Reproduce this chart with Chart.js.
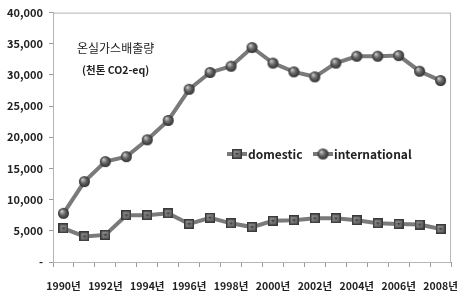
<!DOCTYPE html>
<html>
<head>
<meta charset="utf-8">
<script src="https://cdn.jsdelivr.net/npm/chart.js@4.4.1/dist/chart.umd.min.js"></script>
<style>
  body { margin: 0; background: #fff; }
  canvas { display: block; }
</style>
</head>
<body>
<canvas id="chart" width="471" height="296"></canvas>
<script>
const years = ["1990년", "1991년", "1992년", "1993년", "1994년", "1995년", "1996년", "1997년", "1998년", "1999년",
  "2000년", "2001년", "2002년", "2003년", "2004년", "2005년", "2006년", "2007년", "2008년"];
const domestic = [5400, 4100, 4350, 7500, 7500, 7800, 6100, 7100, 6200, 5600,
  6600, 6700, 7000, 7000, 6700, 6200, 6100, 6000, 5300];
const international = [7800, 12900, 16100, 16900, 19600, 22700, 27700, 30400, 31400, 34400,
  31900, 30500, 29700, 31900, 33000, 33000, 33100, 30600, 29100];
const yTicks = [0, 5000, 10000, 15000, 20000, 25000, 30000, 35000, 40000];

const FONT = "'Noto Sans CJK KR', 'Noto Sans', sans-serif";
const LINE = "#7a7a7a";

// marker images, drawn once
function sphere(r) {
  const c = document.createElement("canvas");
  c.width = c.height = r * 2 + 2;
  const g = c.getContext("2d");
  const m = r + 1;
  const grad = g.createRadialGradient(m - r * 0.35, m - r * 0.4, 0.5, m, m, r);
  grad.addColorStop(0, "#c8c8c8");
  grad.addColorStop(0.45, "#6a6a6a");
  grad.addColorStop(1, "#2e2e2e");
  g.fillStyle = grad;
  g.beginPath();
  g.arc(m, m, r, 0, Math.PI * 2);
  g.fill();
  return c;
}

function block(s) {
  const c = document.createElement("canvas");
  c.width = c.height = s;
  const g = c.getContext("2d");
  g.fillStyle = "#3a3a3a";
  g.fillRect(0, 0, s, s);
  const grad = g.createLinearGradient(0, 0, s, s);
  grad.addColorStop(0, "#9a9a9a");
  grad.addColorStop(1, "#555");
  g.fillStyle = grad;
  g.fillRect(1.5, 1.5, s - 3, s - 3);
  g.fillStyle = "#444";
  g.beginPath();
  g.moveTo(s / 2 - 2, s / 2 - 1);
  g.lineTo(s / 2 + 2, s / 2 - 1);
  g.lineTo(s / 2, s / 2 + 1.5);
  g.fill();
  return c;
}

const ballImg = sphere(5.5);
const boxImg = block(10);

const overlay = {
  id: "overlay",
  beforeDatasetsDraw(chart) {
    const { ctx, chartArea: a } = chart;
    ctx.save();
    ctx.strokeStyle = "#b5b5b5";
    ctx.lineWidth = 1;
    ctx.strokeRect(a.left + 0.5, a.top + 0.5, a.right - a.left - 1, a.bottom - a.top);
    ctx.restore();
  },
  afterDraw(chart) {
    const { ctx } = chart;
    ctx.save();
    ctx.fillStyle = "#222";
    ctx.textBaseline = "middle";
    ctx.textAlign = "left";
    ctx.font = "12px " + FONT;
    ctx.fillText("온실가스배출량", 77, 48);
    ctx.font = "bold 10.5px " + FONT;
    ctx.fillText("(천톤 CO2-eq)", 82, 70);

    // legend
    ctx.font = "bold 12px " + FONT;
    const ly = 154;
    const items = [
      { x: 227, img: boxImg, text: "domestic" },
      { x: 313, img: ballImg, text: "international" },
    ];
    items.forEach((it) => {
      ctx.strokeStyle = LINE;
      ctx.lineWidth = 4;
      ctx.beginPath();
      ctx.moveTo(it.x, ly);
      ctx.lineTo(it.x + 20, ly);
      ctx.stroke();
      ctx.drawImage(it.img, it.x + 10 - it.img.width / 2, ly - it.img.height / 2);
      ctx.fillStyle = "#222";
      ctx.fillText(it.text, it.x + 21, ly);
    });
    ctx.restore();
  },
};

new Chart(document.getElementById("chart"), {
  type: "line",
  data: {
    labels: years,
    datasets: [
      {
        label: "domestic",
        data: domestic,
        borderColor: LINE,
        borderWidth: 4,
        pointStyle: boxImg,
        tension: 0,
      },
      {
        label: "international",
        data: international,
        borderColor: LINE,
        borderWidth: 4,
        pointStyle: ballImg,
        tension: 0,
      },
    ],
  },
  options: {
    responsive: false,
    animation: false,
    layout: { padding: { top: 10, right: 6, left: 0, bottom: 0 } },
    plugins: {
      legend: { display: false },
      tooltip: { enabled: false },
    },
    scales: {
      x: {
        type: "category",
        offset: true,
        afterFit: (scale) => { scale.height = 34; },
        border: { display: true, color: "#9a9a9a" },
        grid: {
          display: true,
          offset: true,
          drawOnChartArea: false,
          tickLength: 5,
          color: "#9a9a9a",
        },
        ticks: {
          autoSkip: false,
          maxRotation: 0,
          padding: 13,
          color: "#222",
          font: { family: FONT, size: 10.5, weight: "bold" },
          callback: function (v, i) { return i % 2 === 0 ? this.getLabelForValue(v) : ""; },
        },
      },
      y: {
        min: 0,
        max: 40000,
        afterFit: (scale) => { scale.width = 53; },
        afterBuildTicks: (scale) => { scale.ticks = yTicks.map((v) => ({ value: v })); },
        border: { display: true, color: "#9a9a9a" },
        grid: {
          display: true,
          drawOnChartArea: false,
          tickLength: 4,
          color: "#9a9a9a",
        },
        ticks: {
          padding: 6,
          color: "#222",
          font: { family: FONT, size: 11, weight: "bold" },
          callback: (v) => (v === 0 ? "-" : v.toLocaleString("en-US")),
        },
      },
    },
  },
  plugins: [overlay],
});
</script>
</body>
</html>
